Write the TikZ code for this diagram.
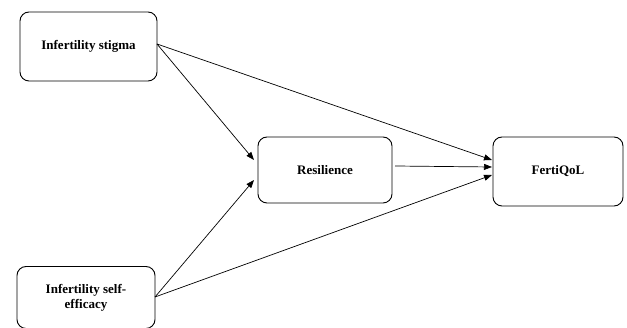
\documentclass[tikz,border=0pt]{standalone}
\usepackage{fontspec}
\setmainfont{Liberation Serif}
\usetikzlibrary{arrows.meta}
\begin{document}
\begin{tikzpicture}[x=1pt,y=-1pt,
  box/.style={draw,line width=0.9pt,rounded corners=9pt,font=\bfseries\fontsize{13}{15}\selectfont,align=center},
  conn/.style={line width=0.7pt,-{Triangle[length=8pt,width=6pt]}}]
\useasboundingbox (0,0) rectangle (627,328);
\fill[white] (0,0) rectangle (627,328);
\node[box,minimum width=137pt,minimum height=69pt] (st) at (88.5,46.5) {Infertility stigma};
\node[box,minimum width=138pt,minimum height=62pt] (se) at (86,297.5) {Infertility self-\\efficacy};
\node[box,minimum width=134pt,minimum height=66pt] (re) at (325,170) {Resilience};
\node[box,minimum width=130pt,minimum height=69pt] (fq) at (558,171.5) {FertiQoL};
\coordinate (stR) at (157,44);
\coordinate (seR) at (155,297);
\coordinate (reR) at (395,166);
\coordinate (reA) at (254,160);
\coordinate (reB) at (254,180);
\coordinate (fqA) at (492,160);
\coordinate (fqB) at (492,167);
\coordinate (fqC) at (492,175);
\draw[conn] (stR) -- (reA);
\draw[conn] (stR) -- (fqA);
\draw[conn] (reR) -- (fqB);
\draw[conn] (seR) -- (reB);
\draw[conn] (seR) -- (fqC);
\end{tikzpicture}
\end{document}
